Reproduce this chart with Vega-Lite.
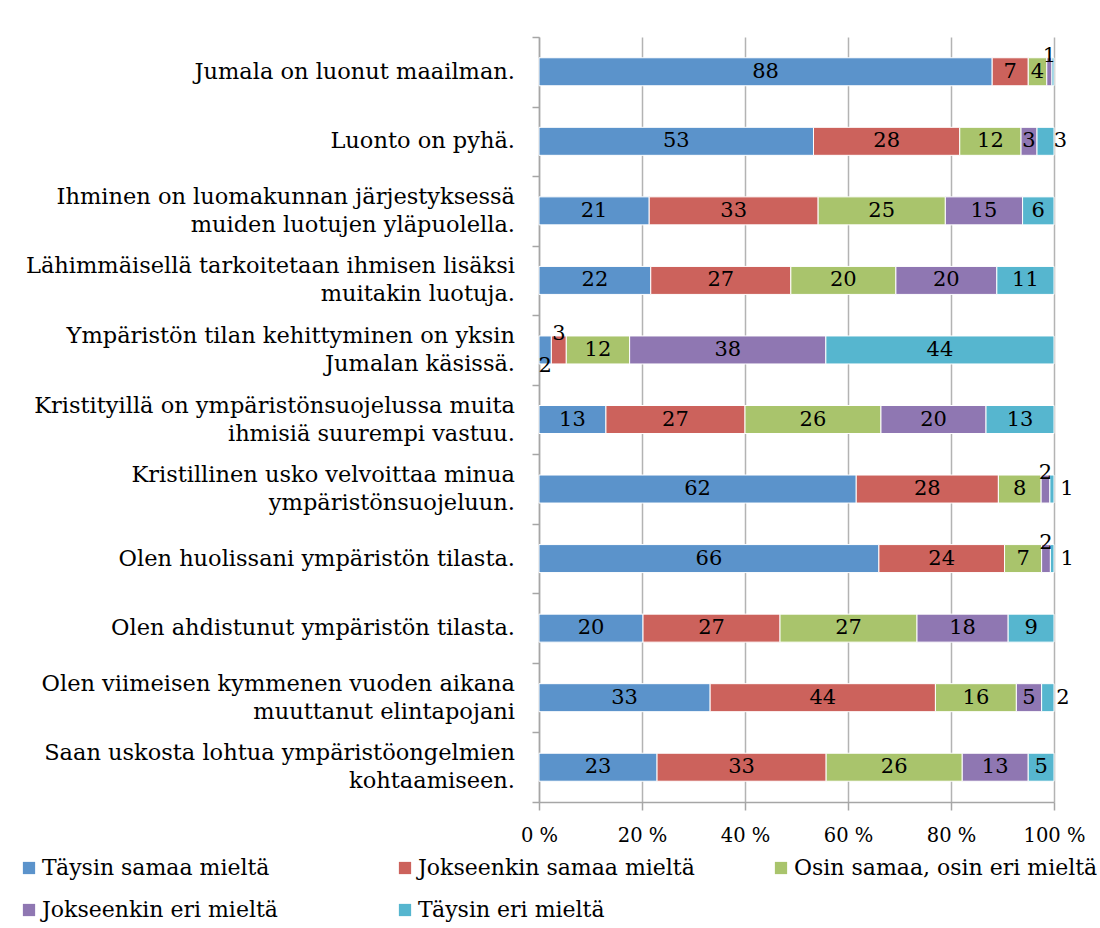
{
  "$schema": "https://vega.github.io/schema/vega-lite/v6.json",
  "width": 515,
  "height": 765,
  "autosize": "none",
  "padding": {"left": 539, "top": 37, "right": 46, "bottom": 126},
  "background": "white",
  "config": {"view": {"stroke": null}},
  "data": {"values": [
    {"s": "Jumala on luonut maailman.", "r": "Täysin samaa mieltä", "o": 1, "v": 88.0},
    {"s": "Jumala on luonut maailman.", "r": "Jokseenkin samaa mieltä", "o": 2, "v": 7.0},
    {"s": "Jumala on luonut maailman.", "r": "Osin samaa, osin eri mieltä", "o": 3, "v": 3.6},
    {"s": "Jumala on luonut maailman.", "r": "Jokseenkin eri mieltä", "o": 4, "v": 1.0},
    {"s": "Jumala on luonut maailman.", "r": "Täysin eri mieltä", "o": 5, "v": 0.4},
    {"s": "Luonto on pyhä.", "r": "Täysin samaa mieltä", "o": 1, "v": 53.3},
    {"s": "Luonto on pyhä.", "r": "Jokseenkin samaa mieltä", "o": 2, "v": 28.4},
    {"s": "Luonto on pyhä.", "r": "Osin samaa, osin eri mieltä", "o": 3, "v": 11.9},
    {"s": "Luonto on pyhä.", "r": "Jokseenkin eri mieltä", "o": 4, "v": 3.1},
    {"s": "Luonto on pyhä.", "r": "Täysin eri mieltä", "o": 5, "v": 3.3},
    {"s": "Ihminen on luomakunnan järjestyksessä|muiden luotujen yläpuolella.", "r": "Täysin samaa mieltä", "o": 1, "v": 21.4},
    {"s": "Ihminen on luomakunnan järjestyksessä|muiden luotujen yläpuolella.", "r": "Jokseenkin samaa mieltä", "o": 2, "v": 32.8},
    {"s": "Ihminen on luomakunnan järjestyksessä|muiden luotujen yläpuolella.", "r": "Osin samaa, osin eri mieltä", "o": 3, "v": 24.7},
    {"s": "Ihminen on luomakunnan järjestyksessä|muiden luotujen yläpuolella.", "r": "Jokseenkin eri mieltä", "o": 4, "v": 15.0},
    {"s": "Ihminen on luomakunnan järjestyksessä|muiden luotujen yläpuolella.", "r": "Täysin eri mieltä", "o": 5, "v": 6.1},
    {"s": "Lähimmäisellä tarkoitetaan ihmisen lisäksi|muitakin luotuja.", "r": "Täysin samaa mieltä", "o": 1, "v": 21.7},
    {"s": "Lähimmäisellä tarkoitetaan ihmisen lisäksi|muitakin luotuja.", "r": "Jokseenkin samaa mieltä", "o": 2, "v": 27.2},
    {"s": "Lähimmäisellä tarkoitetaan ihmisen lisäksi|muitakin luotuja.", "r": "Osin samaa, osin eri mieltä", "o": 3, "v": 20.4},
    {"s": "Lähimmäisellä tarkoitetaan ihmisen lisäksi|muitakin luotuja.", "r": "Jokseenkin eri mieltä", "o": 4, "v": 19.6},
    {"s": "Lähimmäisellä tarkoitetaan ihmisen lisäksi|muitakin luotuja.", "r": "Täysin eri mieltä", "o": 5, "v": 11.1},
    {"s": "Ympäristön tilan kehittyminen on yksin|Jumalan käsissä.", "r": "Täysin samaa mieltä", "o": 1, "v": 2.4},
    {"s": "Ympäristön tilan kehittyminen on yksin|Jumalan käsissä.", "r": "Jokseenkin samaa mieltä", "o": 2, "v": 2.9},
    {"s": "Ympäristön tilan kehittyminen on yksin|Jumalan käsissä.", "r": "Osin samaa, osin eri mieltä", "o": 3, "v": 12.3},
    {"s": "Ympäristön tilan kehittyminen on yksin|Jumalan käsissä.", "r": "Jokseenkin eri mieltä", "o": 4, "v": 38.1},
    {"s": "Ympäristön tilan kehittyminen on yksin|Jumalan käsissä.", "r": "Täysin eri mieltä", "o": 5, "v": 44.3},
    {"s": "Kristityillä on ympäristönsuojelussa muita|ihmisiä suurempi vastuu.", "r": "Täysin samaa mieltä", "o": 1, "v": 13.0},
    {"s": "Kristityillä on ympäristönsuojelussa muita|ihmisiä suurempi vastuu.", "r": "Jokseenkin samaa mieltä", "o": 2, "v": 27.0},
    {"s": "Kristityillä on ympäristönsuojelussa muita|ihmisiä suurempi vastuu.", "r": "Osin samaa, osin eri mieltä", "o": 3, "v": 26.4},
    {"s": "Kristityillä on ympäristönsuojelussa muita|ihmisiä suurempi vastuu.", "r": "Jokseenkin eri mieltä", "o": 4, "v": 20.4},
    {"s": "Kristityillä on ympäristönsuojelussa muita|ihmisiä suurempi vastuu.", "r": "Täysin eri mieltä", "o": 5, "v": 13.2},
    {"s": "Kristillinen usko velvoittaa minua|ympäristönsuojeluun.", "r": "Täysin samaa mieltä", "o": 1, "v": 61.6},
    {"s": "Kristillinen usko velvoittaa minua|ympäristönsuojeluun.", "r": "Jokseenkin samaa mieltä", "o": 2, "v": 27.6},
    {"s": "Kristillinen usko velvoittaa minua|ympäristönsuojeluun.", "r": "Osin samaa, osin eri mieltä", "o": 3, "v": 8.3},
    {"s": "Kristillinen usko velvoittaa minua|ympäristönsuojeluun.", "r": "Jokseenkin eri mieltä", "o": 4, "v": 1.7},
    {"s": "Kristillinen usko velvoittaa minua|ympäristönsuojeluun.", "r": "Täysin eri mieltä", "o": 5, "v": 0.8},
    {"s": "Olen huolissani ympäristön tilasta.", "r": "Täysin samaa mieltä", "o": 1, "v": 66.0},
    {"s": "Olen huolissani ympäristön tilasta.", "r": "Jokseenkin samaa mieltä", "o": 2, "v": 24.4},
    {"s": "Olen huolissani ympäristön tilasta.", "r": "Osin samaa, osin eri mieltä", "o": 3, "v": 7.2},
    {"s": "Olen huolissani ympäristön tilasta.", "r": "Jokseenkin eri mieltä", "o": 4, "v": 1.7},
    {"s": "Olen huolissani ympäristön tilasta.", "r": "Täysin eri mieltä", "o": 5, "v": 0.7},
    {"s": "Olen ahdistunut ympäristön tilasta.", "r": "Täysin samaa mieltä", "o": 1, "v": 20.2},
    {"s": "Olen ahdistunut ympäristön tilasta.", "r": "Jokseenkin samaa mieltä", "o": 2, "v": 26.6},
    {"s": "Olen ahdistunut ympäristön tilasta.", "r": "Osin samaa, osin eri mieltä", "o": 3, "v": 26.6},
    {"s": "Olen ahdistunut ympäristön tilasta.", "r": "Jokseenkin eri mieltä", "o": 4, "v": 17.7},
    {"s": "Olen ahdistunut ympäristön tilasta.", "r": "Täysin eri mieltä", "o": 5, "v": 8.9},
    {"s": "Olen viimeisen kymmenen vuoden aikana|muuttanut elintapojani", "r": "Täysin samaa mieltä", "o": 1, "v": 33.2},
    {"s": "Olen viimeisen kymmenen vuoden aikana|muuttanut elintapojani", "r": "Jokseenkin samaa mieltä", "o": 2, "v": 43.7},
    {"s": "Olen viimeisen kymmenen vuoden aikana|muuttanut elintapojani", "r": "Osin samaa, osin eri mieltä", "o": 3, "v": 15.7},
    {"s": "Olen viimeisen kymmenen vuoden aikana|muuttanut elintapojani", "r": "Jokseenkin eri mieltä", "o": 4, "v": 4.9},
    {"s": "Olen viimeisen kymmenen vuoden aikana|muuttanut elintapojani", "r": "Täysin eri mieltä", "o": 5, "v": 2.4},
    {"s": "Saan uskosta lohtua ympäristöongelmien|kohtaamiseen.", "r": "Täysin samaa mieltä", "o": 1, "v": 22.9},
    {"s": "Saan uskosta lohtua ympäristöongelmien|kohtaamiseen.", "r": "Jokseenkin samaa mieltä", "o": 2, "v": 32.8},
    {"s": "Saan uskosta lohtua ympäristöongelmien|kohtaamiseen.", "r": "Osin samaa, osin eri mieltä", "o": 3, "v": 26.4},
    {"s": "Saan uskosta lohtua ympäristöongelmien|kohtaamiseen.", "r": "Jokseenkin eri mieltä", "o": 4, "v": 12.8},
    {"s": "Saan uskosta lohtua ympäristöongelmien|kohtaamiseen.", "r": "Täysin eri mieltä", "o": 5, "v": 5.0}
  ]},
  "encoding": {
    "y": {
      "field": "s", "type": "nominal", "sort": null,
      "scale": {
        "paddingInner": 0, "paddingOuter": 0,
        "domain": [
          "Jumala on luonut maailman.",
          "Luonto on pyhä.",
          "Ihminen on luomakunnan järjestyksessä|muiden luotujen yläpuolella.",
          "Lähimmäisellä tarkoitetaan ihmisen lisäksi|muitakin luotuja.",
          "Ympäristön tilan kehittyminen on yksin|Jumalan käsissä.",
          "Kristityillä on ympäristönsuojelussa muita|ihmisiä suurempi vastuu.",
          "Kristillinen usko velvoittaa minua|ympäristönsuojeluun.",
          "Olen huolissani ympäristön tilasta.",
          "Olen ahdistunut ympäristön tilasta.",
          "Olen viimeisen kymmenen vuoden aikana|muuttanut elintapojani",
          "Saan uskosta lohtua ympäristöongelmien|kohtaamiseen."
        ]
      },
      "axis": {
        "title": null, "tickBand": "extent", "labels": false,
        "tickSize": 7, "tickColor": "#a6a6a6", "tickWidth": 1.5,
        "domainColor": "#a6a6a6", "domainWidth": 1.5
      }
    }
  },
  "layer": [
    {
      "mark": {"type": "bar", "size": 28, "stroke": "white", "strokeWidth": 1},
      "encoding": {
        "x": {
          "field": "v", "type": "quantitative", "stack": "normalize",
          "scale": {"domain": [0, 1]},
          "axis": {
            "title": null, "values": [0, 0.2, 0.4, 0.6, 0.8, 1],
            "labelExpr": "round(datum.value * 100) + ' %'",
            "grid": true, "gridColor": "#b3b3b3", "gridWidth": 1.5,
            "tickSize": 8, "tickColor": "#a6a6a6", "tickWidth": 1.5,
            "domainColor": "#a6a6a6", "domainWidth": 1.5,
            "labelPadding": 16, "labelFlush": false,
            "labelFont": "DejaVu Serif", "labelFontSize": 19.5, "labelColor": "black"
          }
        },
        "color": {
          "field": "r", "type": "nominal",
          "scale": {
            "domain": ["Täysin samaa mieltä", "Jokseenkin samaa mieltä", "Osin samaa, osin eri mieltä", "Jokseenkin eri mieltä", "Täysin eri mieltä"],
            "range": ["#5b93cb", "#cc625c", "#a9c46c", "#8f77b2", "#56b6cf"]
          },
          "legend": {
            "title": null, "orient": "none", "legendX": -521, "legendY": 820,
            "direction": "horizontal", "columns": 3, "gridAlign": "all",
            "columnPadding": 48, "rowPadding": 20,
            "symbolType": "square", "symbolSize": 150, "symbolStrokeWidth": 0,
            "labelFont": "DejaVu Serif", "labelFontSize": 22, "labelColor": "black",
            "labelOffset": 2, "labelLimit": 500
          }
        },
        "order": {"field": "o", "type": "quantitative"}
      }
    },
    {
      "transform": [{"filter": "datum.o == 1 && indexof(datum.s, '|') < 0"}],
      "mark": {"type": "text", "font": "DejaVu Serif", "fontSize": 22.5, "color": "black", "align": "right", "baseline": "middle", "dx": -24},
      "encoding": {
        "x": {"datum": 0, "type": "quantitative"},
        "text": {"field": "s", "type": "nominal"}
      }
    },
    {
      "transform": [
        {"filter": "datum.o == 1 && indexof(datum.s, '|') >= 0"},
        {"calculate": "split(datum.s, '|')", "as": "lines"}
      ],
      "mark": {"type": "text", "font": "DejaVu Serif", "fontSize": 22.5, "color": "black", "align": "right", "baseline": "middle", "dx": -24, "dy": -14, "lineHeight": 28},
      "encoding": {
        "x": {"datum": 0, "type": "quantitative"},
        "text": {"field": "lines", "type": "nominal"}
      }
    },
    {
      "mark": {"type": "text", "font": "DejaVu Serif", "fontSize": 21, "color": "black", "baseline": "middle"},
      "encoding": {
        "x": {"field": "v", "type": "quantitative", "stack": "normalize", "bandPosition": 0.5},
        "detail": {"field": "r", "type": "nominal"},
        "order": {"field": "o", "type": "quantitative"},
        "text": {
          "condition": {"test": "datum.v < 0.5 || (datum.o == 5 && datum.v < 4) || (datum.o == 4 && datum.v < 2) || (datum.o <= 2 && datum.v < 3.5)", "value": ""},
          "field": "v", "type": "quantitative", "format": ".0f"
        }
      }
    },
    {
      "mark": {"type": "text", "font": "DejaVu Serif", "fontSize": 21, "color": "black", "baseline": "middle", "dx": 15},
      "encoding": {
        "x": {"field": "v", "type": "quantitative", "stack": "normalize", "bandPosition": 0.5},
        "detail": {"field": "r", "type": "nominal"},
        "order": {"field": "o", "type": "quantitative"},
        "text": {
          "condition": {"test": "!(datum.o == 5 && datum.v < 4 && datum.v >= 0.5)", "value": ""},
          "field": "v", "type": "quantitative", "format": ".0f"
        }
      }
    },
    {
      "mark": {"type": "text", "font": "DejaVu Serif", "fontSize": 21, "color": "black", "baseline": "middle", "dy": -16},
      "encoding": {
        "x": {"field": "v", "type": "quantitative", "stack": "normalize", "bandPosition": 0.5},
        "detail": {"field": "r", "type": "nominal"},
        "order": {"field": "o", "type": "quantitative"},
        "text": {
          "condition": {"test": "!((datum.o == 4 && datum.v < 2) || (datum.o == 2 && datum.v < 3.5))", "value": ""},
          "field": "v", "type": "quantitative", "format": ".0f"
        }
      }
    },
    {
      "mark": {"type": "text", "font": "DejaVu Serif", "fontSize": 21, "color": "black", "baseline": "middle", "dy": 16},
      "encoding": {
        "x": {"field": "v", "type": "quantitative", "stack": "normalize", "bandPosition": 0.5},
        "detail": {"field": "r", "type": "nominal"},
        "order": {"field": "o", "type": "quantitative"},
        "text": {
          "condition": {"test": "!(datum.o == 1 && datum.v < 3.5)", "value": ""},
          "field": "v", "type": "quantitative", "format": ".0f"
        }
      }
    }
  ]
}
